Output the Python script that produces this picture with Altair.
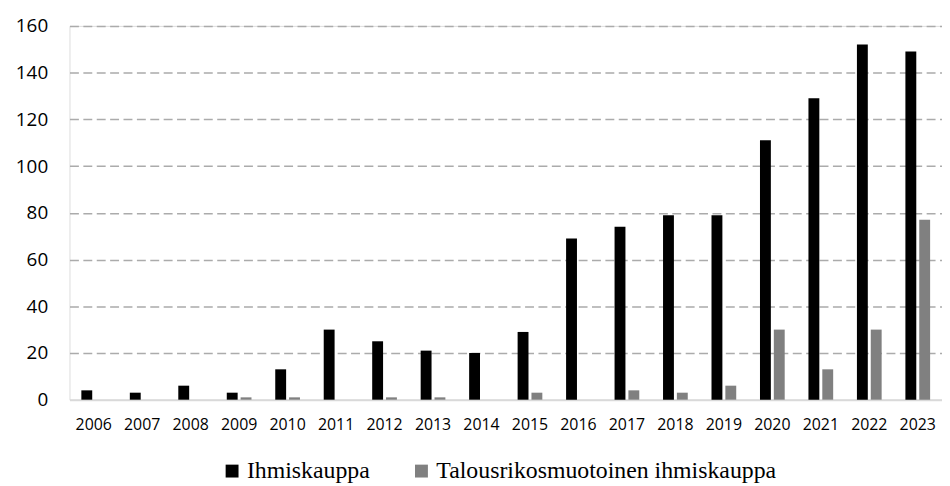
import altair as alt
import pandas as pd

years = [str(y) for y in range(2006, 2024)]
ihmiskauppa = [4, 3, 6, 3, 13, 30, 25, 21, 20, 29, 69, 74, 79, 79, 111, 129, 152, 149]
talous = [0, 0, 0, 1, 1, 0, 1, 1, 0, 3, 0, 4, 3, 6, 30, 13, 30, 77]
series = ["Ihmiskauppa", "Talousrikosmuotoinen ihmiskauppa"]
colors = ["#000000", "#808080"]
y_ticks = [0, 20, 40, 60, 80, 100, 120, 140, 160]

rows = []
for i, y in enumerate(years):
    rows.append({"year": y, "series": series[0], "value": ihmiskauppa[i]})
    rows.append({"year": y, "series": series[1], "value": talous[i]})
df = pd.DataFrame(rows)

chart = (
    alt.Chart(df)
    .mark_bar(strokeWidth=0)
    .encode(
        x=alt.X(
            "year:N",
            sort=years,
            title=None,
            scale=alt.Scale(paddingInner=0.49, paddingOuter=0.245),
            axis=alt.Axis(
                labelAngle=0,
                labelFont="Open Sans",
                labelFontSize=16,
                labelColor="#000000",
                ticks=False,
                domain=False,
                labelPadding=17,
            ),
        ),
        xOffset=alt.XOffset(
            "series:N", sort=series, scale=alt.Scale(paddingInner=0.214, paddingOuter=0)
        ),
        y=alt.Y(
            "value:Q",
            title=None,
            scale=alt.Scale(domain=[0, 160], nice=False),
            axis=alt.Axis(
                values=y_ticks,
                labelFont="Open Sans",
                labelFontSize=19,
                labelColor="#000000",
                ticks=False,
                domain=False,
                labelPadding=22,
                grid=True,
                gridColor=alt.condition(
                    alt.datum.value == 0, alt.value("#d9d9d9"), alt.value("#ababab")
                ),
                gridDash=alt.condition(
                    alt.datum.value == 0, alt.value([]), alt.value([9, 4.5])
                ),
                gridWidth=alt.condition(
                    alt.datum.value == 0, alt.value(2), alt.value(1.5)
                ),
            ),
        ),
        color=alt.Color(
            "series:N",
            sort=series,
            scale=alt.Scale(domain=series, range=colors),
            legend=alt.Legend(
                title=None,
                orient="none",
                legendX=152,
                legendY=437,
                direction="horizontal",
                symbolType="square",
                symbolSize=169,
                symbolStrokeWidth=0,
                labelFont="Liberation Serif",
                labelFontSize=24,
                labelColor="#000000",
                labelLimit=600,
                labelOffset=3,
                columnPadding=40,
                padding=0,
            ),
        ),
    )
    .properties(
        width=880,
        height=377,
        autosize=alt.AutoSizeParams(type="none"),
        padding={"left": 62, "top": 16, "right": 0, "bottom": 85},
    )
    .configure_view(stroke=None)
    .configure(background="#ffffff")
)

chart.save("out.html", embed_options={"renderer": "svg", "actions": False})
